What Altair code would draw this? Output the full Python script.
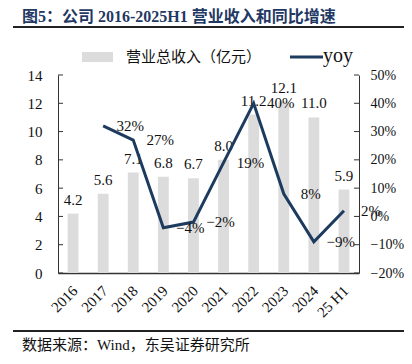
import altair as alt
import pandas as pd

# ---- data ----
categories = ["2016", "2017", "2018", "2019", "2020", "2021", "2022", "2023", "2024", "25 H1"]
revenue = [4.2, 5.6, 7.1, 6.8, 6.7, 8.0, 11.2, 12.1, 11.0, 5.9]
yoy = [None, 0.32, 0.27, -0.04, -0.02, 0.19, 0.40, 0.08, -0.09, 0.02]
left_ticks = [0, 2, 4, 6, 8, 10, 12, 14]
right_ticks = [-0.2, -0.1, 0.0, 0.1, 0.2, 0.3, 0.4, 0.5]

title_text = "图5：公司 2016-2025H1 营业收入和同比增速"
legend_bar = "营业总收入（亿元）"
legend_line = "yoy"
source_text = "数据来源：Wind，东吴证券研究所"

df = pd.DataFrame({"cat": categories, "rev": revenue, "yoy": yoy})
lt = pd.DataFrame({"v": left_ticks})
rt = pd.DataFrame({"v": right_ticks})

FONT = "Liberation Serif, Noto Sans CJK SC"
NAVY = "#1d3a5f"
GREY = "#dcdcdc"
AX = "#333333"

W, H = 301, 198

xscale = alt.Scale(paddingInner=0.64, paddingOuter=0.32)
xaxis = alt.Axis(title=None, ticks=False, labelAngle=-45, labelAlign="right",
                 labelBaseline="middle", labelPadding=15, labelOffset=2,
                 labelOverlap=False, domainColor=AX, domainWidth=1.5)


def xenc():
    return alt.X("cat:N", sort=categories, scale=xscale, axis=xaxis)


lscale = alt.Scale(domain=[0, 14], nice=False, zero=False)
rscale = alt.Scale(domain=[-0.2, 0.5], nice=False, zero=False)
laxis = alt.Axis(title=None, values=left_ticks, ticks=False, labelPadding=16,
                 labelOverlap=False, domainColor=AX, grid=False)
raxis = alt.Axis(title=None, orient="right", format=".0%", values=right_ticks,
                 ticks=False, labelPadding=11, labelFontSize=14,
                 labelOverlap=False, domainColor=AX, grid=False)

base = alt.Chart(df)

bars = base.mark_bar(color=GREY).encode(
    x=xenc(),
    y=alt.Y("rev:Q", scale=lscale, axis=laxis),
)
bar_labels = base.mark_text(font=FONT, fontSize=15, baseline="alphabetic", dy=-9,
                            color="#111").encode(
    x=xenc(),
    y=alt.Y("rev:Q", scale=lscale, axis=laxis),
    text=alt.Text("rev:Q", format=".1f"),
)
lticks_layer = alt.Chart(lt).mark_rule(color=AX).encode(
    y=alt.Y("v:Q", scale=lscale, axis=laxis), x=alt.value(0), x2=alt.value(5))

left_group = alt.layer(bars, bar_labels, lticks_layer)

line = base.mark_line(color=NAVY, strokeWidth=3).encode(
    x=xenc(),
    y=alt.Y("yoy:Q", scale=rscale, axis=raxis),
)
line_labels = base.mark_text(font=FONT, fontSize=15, baseline="middle", dx=27,
                             color="#111").encode(
    x=xenc(),
    y=alt.Y("yoy:Q", scale=rscale, axis=raxis),
    text=alt.Text("yoy:Q", format=".0%"),
)
rticks_layer = alt.Chart(rt).mark_rule(color=AX).encode(
    y=alt.Y("v:Q", scale=rscale, axis=raxis), x=alt.value(W - 5), x2=alt.value(W))

right_group = alt.layer(line, line_labels, rticks_layer)

one = pd.DataFrame({"k": [0]})


def txt(s, x, y, size, weight="normal", color="#111"):
    return alt.Chart(pd.DataFrame({"t": [s]})).mark_text(
        font=FONT, fontSize=size, fontWeight=weight, align="left", baseline="middle",
        color=color).encode(x=alt.value(x), y=alt.value(y), text="t:N")


title = txt(title_text, -36, -58, 16, "bold", "#1f3864")
top_rule = alt.Chart(one).mark_rule(color="#222", strokeWidth=2).encode(
    x=alt.value(-45), x2=alt.value(360), y=alt.value(-48))
bot_rule = alt.Chart(one).mark_rule(color="#222", strokeWidth=2).encode(
    x=alt.value(-45), x2=alt.value(360), y=alt.value(256))
source = txt(source_text, -36, 270, 15)

leg_rect = alt.Chart(one).mark_rect(color=GREY).encode(
    x=alt.value(24), x2=alt.value(55), y=alt.value(-23), y2=alt.value(-13))
leg_text = txt(legend_bar, 68, -18, 15)
leg_line = alt.Chart(one).mark_rule(color=NAVY, strokeWidth=3).encode(
    x=alt.value(232), x2=alt.value(265), y=alt.value(-18))
leg_text2 = txt(legend_line, 265, -19, 20)

chart = alt.layer(
    left_group, right_group,
    title, top_rule, bot_rule, source, leg_rect, leg_text, leg_line, leg_text2,
).resolve_scale(y="independent").properties(
    width=W, height=H,
    autosize=alt.AutoSizeParams(type="none"),
    padding={"left": 50, "top": 67, "right": 45, "bottom": 83},
).configure_axis(
    labelFont=FONT, labelFontSize=15, labelColor="#111", grid=False, labelOverlap=False
).configure_view(stroke=None)

chart.save("out.html", embed_options={"renderer": "svg", "actions": False})
